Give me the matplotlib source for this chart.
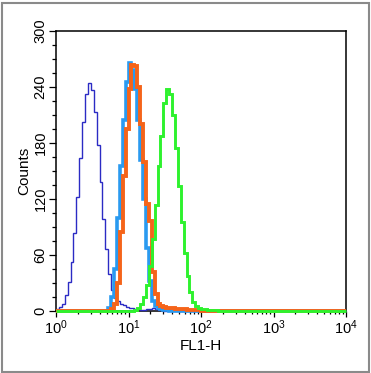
import numpy as np
import matplotlib
matplotlib.use("Agg")
import matplotlib.pyplot as plt
from matplotlib.patches import Rectangle
from matplotlib.ticker import LogLocator, MultipleLocator, FixedLocator

plt.rcParams['font.family'] = ['Liberation Sans', 'DejaVu Sans']

# ---- data: histogram channels (25 per decade, log10 FL1-H from 0 to 4) ----
channels_per_decade = 25
n_channels = 100

blue_start = 0
blue_counts = [2, 4, 8, 17, 31, 53, 84, 122, 164, 203, 232, 244, 237, 213, 178,
               138, 99, 66, 40, 23, 14, 11, 8, 6, 4, 3, 3, 2, 2, 1, 1, 2, 2, 3,
               2, 1, 1]

cyan_start = 18
cyan_counts = [3, 15, 45, 100, 155, 205, 245, 266, 258, 238, 205, 162, 120, 68,
               32, 11, 5, 3, 2, 1, 1]

orange_start = 19
orange_counts = [2, 8, 30, 85, 145, 195, 238, 264, 262, 240, 200, 160, 115, 96,
                 42, 18, 7, 5, 4, 3, 3, 3, 2, 2, 2, 2, 1, 1, 1, 1, 1]

green_start = 27
green_counts = [1, 3, 7, 15, 28, 48, 77, 114, 155, 188, 223, 238, 232, 210, 175,
                134, 95, 62, 37, 20, 10, 5, 3, 2, 2, 1, 1, 1, 1]

y_ticks = [0, 60, 120, 180, 240, 300]
x_label = "FL1-H"
y_label = "Counts"

# ---- figure ----
W, H = 371, 373
fig = plt.figure(figsize=(W / 100, H / 100), dpi=100)
ax = fig.add_axes([56 / W, 1 - 311 / H, (346 - 56) / W, (311 - 31) / H])

edges = 10 ** (np.arange(n_channels + 1) / channels_per_decade)


def full(start, counts):
    arr = np.zeros(n_channels)
    arr[start:start + len(counts)] = counts
    return arr


series = [
    (blue_start, blue_counts, "#2b2bc4", 1.0),
    (cyan_start, cyan_counts, "#2a9af0", 2.6),
    (orange_start, orange_counts, "#f5641a", 2.8),
    (green_start, green_counts, "#2ef22e", 2.1),
]
for i, (st, cnt, col, lw) in enumerate(series):
    ax.stairs(full(st, cnt), edges, color=col, linewidth=lw, baseline=None,
              clip_on=False, zorder=3 + i)

ax.set_xscale("log")
ax.set_xlim(1, 1e4)
ax.set_ylim(0, 300)

ax.xaxis.set_major_locator(LogLocator(base=10, numticks=10))
ax.xaxis.set_minor_locator(LogLocator(base=10, subs=np.arange(2, 10), numticks=10))
ax.yaxis.set_major_locator(FixedLocator(y_ticks))
ax.yaxis.set_minor_locator(MultipleLocator(15))

ax.tick_params(axis="y", which="major", length=5, width=0.9, direction="out",
               labelsize=10.5, pad=1)
ax.tick_params(axis="y", which="minor", length=3, width=0.9, direction="out")
ax.tick_params(axis="x", which="major", length=4, width=0.9, direction="out",
               labelsize=10.5, pad=1.5)
ax.tick_params(axis="x", which="minor", length=2.5, width=0.9, direction="out")
for lab in ax.get_yticklabels():
    lab.set_rotation(90)
    lab.set_va("center")

for sp in ax.spines.values():
    sp.set_linewidth(1.1)
    sp.set_color("black")

ax.set_xlabel(x_label, fontsize=11, labelpad=1)
ax.set_ylabel(y_label, fontsize=11, labelpad=2)

fig.patches.append(Rectangle((1.5 / W, 1.5 / H), 1 - 4 / W, 1 - 4 / H,
                             transform=fig.transFigure, fill=False,
                             edgecolor="#8a8a8a", linewidth=1.5))

fig.savefig("out.png", dpi=100)
